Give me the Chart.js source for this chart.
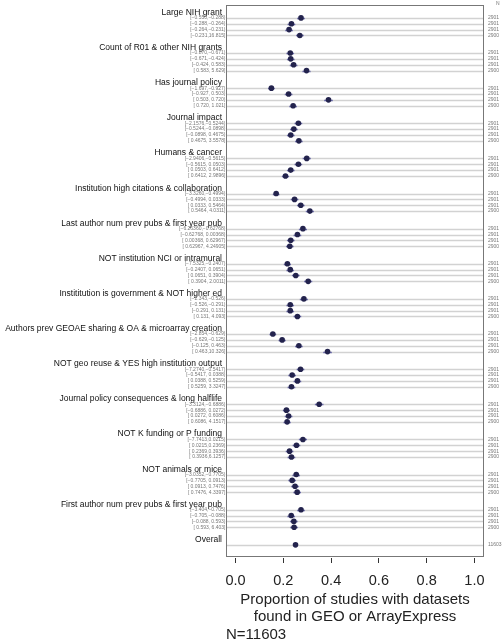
<!DOCTYPE html>
<html lang="en">
<head>
<meta charset="UTF-8">
<title>Forest plot</title>
<script src="https://cdn.jsdelivr.net/npm/chart.js"></script>
<style>
  body { margin: 0; background: #fff; }
  .chart-container { width: 503px; height: 643px; }
</style>
</head>
<body>
<div class="chart-container"><canvas id="myChart"></canvas></div>
<script>
// group headers
const groups = [
  'Large NIH grant',
  'Count of R01 & other NIH grants',
  'Has journal policy',
  'Journal impact',
  'Humans & cancer',
  'Institution high citations & collaboration',
  'Last author num prev pubs & first year pub',
  'NOT institution NCI or intramural',
  'Instititution is government & NOT higher ed',
  'Authors prev GEOAE sharing & OA & microarray creation',
  'NOT geo reuse & YES high institution output',
  'Journal policy consequences & long halflife',
  'NOT K funding or P funding',
  'NOT animals or mice',
  'First author num prev pubs & first year pub',
  'Overall'
];

// bin labels per group
const binLabels = [
  ['[\u22120.550,\u22120.288)', '[\u22120.288,\u22120.264)', '[\u22120.264,\u22120.231)', '[\u22120.231,16.815]'],
  ['[\u22120.870,\u22120.671)', '[\u22120.671,\u22120.424)', '[\u22120.424, 0.583)', '[ 0.583, 5.629]'],
  ['[\u22121.697,\u22120.927)', '[\u22120.927, 0.503)', '[ 0.503, 0.720)', '[ 0.720, 1.021]'],
  ['[\u22122.1576,\u22120.5244)', '[\u22120.5244,\u22120.0898)', '[\u22120.0898, 0.4675)', '[ 0.4675, 3.5578]'],
  ['[\u22122.9406,\u22120.5615)', '[\u22120.5615, 0.0503)', '[ 0.0503, 0.6412)', '[ 0.6412, 2.9896]'],
  ['[\u22123.3260,\u22120.4994)', '[\u22120.4994, 0.0333)', '[ 0.0333, 0.5464)', '[ 0.5464, 4.0311]'],
  ['[\u22126.26360,\u22120.62768)', '[\u22120.62768, 0.00368)', '[ 0.00368, 0.62967)', '[ 0.62967, 4.24905]'],
  ['[\u22127.5325,\u22120.2407)', '[\u22120.2407, 0.0651)', '[ 0.0651, 0.3904)', '[ 0.3904, 2.0011]'],
  ['[\u22122.343,\u22120.526)', '[\u22120.526,\u22120.291)', '[\u22120.291, 0.131)', '[ 0.131, 4.093]'],
  ['[\u22122.854,\u22120.629)', '[\u22120.629,\u22120.125)', '[\u22120.125, 0.463)', '[ 0.463,10.326]'],
  ['[\u22127.2740,\u22120.5417)', '[\u22120.5417, 0.0388)', '[ 0.0388, 0.5259)', '[ 0.5259, 3.3247]'],
  ['[\u22123.3124,\u22120.6886)', '[\u22120.6886, 0.0272)', '[ 0.0272, 0.6086)', '[ 0.6086, 4.1517]'],
  ['[\u22127.7413,0.0215)', '[ 0.0215,0.2369)', '[ 0.2369,0.3936)', '[ 0.3936,6.1257]'],
  ['[\u22123.0352,\u22120.7705)', '[\u22120.7705, 0.0913)', '[ 0.0913, 0.7476)', '[ 0.7476, 4.3397]'],
  ['[\u22123.404,\u22120.705)', '[\u22120.705,\u22120.088)', '[\u22120.088, 0.593)', '[ 0.593, 6.403]'],
  ['']
];

// proportion of studies with datasets
const props = [
  [0.274, 0.234, 0.224, 0.269],
  [0.229, 0.231, 0.243, 0.297],
  [0.150, 0.222, 0.389, 0.241],
  [0.263, 0.244, 0.231, 0.265],
  [0.298, 0.263, 0.231, 0.209],
  [0.170, 0.247, 0.273, 0.311],
  [0.282, 0.259, 0.231, 0.227],
  [0.217, 0.229, 0.252, 0.304],
  [0.286, 0.229, 0.229, 0.259],
  [0.156, 0.195, 0.265, 0.385],
  [0.272, 0.237, 0.259, 0.234],
  [0.350, 0.213, 0.222, 0.216],
  [0.282, 0.255, 0.226, 0.234],
  [0.254, 0.237, 0.249, 0.258],
  [0.274, 0.233, 0.244, 0.245],
  [0.251]
];

// half width of the interval bars
const ciHalf = [
  [0.016, 0.016, 0.016, 0.016],
  [0.016, 0.016, 0.016, 0.017],
  [0.014, 0.016, 0.018, 0.016],
  [0.016, 0.016, 0.016, 0.016],
  [0.017, 0.016, 0.016, 0.015],
  [0.014, 0.016, 0.016, 0.017],
  [0.017, 0.016, 0.016, 0.016],
  [0.015, 0.016, 0.016, 0.017],
  [0.017, 0.016, 0.016, 0.016],
  [0.014, 0.015, 0.016, 0.018],
  [0.016, 0.016, 0.016, 0.016],
  [0.018, 0.015, 0.016, 0.015],
  [0.017, 0.016, 0.016, 0.016],
  [0.016, 0.016, 0.016, 0.016],
  [0.016, 0.016, 0.016, 0.016],
  [0.008]
];

const counts = [
  [2901, 2901, 2901, 2900], [2901, 2901, 2901, 2900], [2901, 2901, 2901, 2900],
  [2901, 2901, 2901, 2900], [2901, 2901, 2901, 2900], [2901, 2901, 2901, 2900],
  [2901, 2901, 2901, 2900], [2901, 2901, 2901, 2900], [2901, 2901, 2901, 2900],
  [2901, 2901, 2901, 2900], [2901, 2901, 2901, 2900], [2901, 2901, 2901, 2900],
  [2901, 2901, 2901, 2900], [2901, 2901, 2901, 2900], [2901, 2901, 2901, 2900],
  [11603]
];

const xTicks = [0.0, 0.2, 0.4, 0.6, 0.8, 1.0];
const axisTitle = ['Proportion of studies with datasets', 'found in GEO or ArrayExpress'];
const footNote = 'N=11603';

// each group = header slot + rows + blank slot
const rowPos = (g, i) => g * 6 + 1 + i;

const points = [];
const rows = [];
props.forEach((arr, g) => arr.forEach((v, i) => {
  points.push({ x: v, y: rowPos(g, i) });
  rows.push({ g, i, v, half: ciHalf[g][i], label: binLabels[g][i], n: counts[g][i] });
}));

const FONT = "'Liberation Sans', Arial, sans-serif";

const forestPlugin = {
  id: 'forest',
  beforeDatasetsDraw(chart) {
    const { ctx, chartArea: a, scales: { x, y } } = chart;
    ctx.save();
    // row lines
    ctx.strokeStyle = '#d2d2d2';
    ctx.lineWidth = 1.5;
    rows.forEach(r => {
      const py = Math.round(y.getPixelForValue(rowPos(r.g, r.i))) + 0.5;
      ctx.beginPath();
      ctx.moveTo(a.left, py);
      ctx.lineTo(a.right, py);
      ctx.stroke();
    });
    // frame
    ctx.strokeStyle = '#777';
    ctx.lineWidth = 1;
    ctx.strokeRect(a.left + 0.5, a.top + 0.5, a.right - a.left - 1, a.bottom - 2 - a.top);
    // interval bars
    ctx.strokeStyle = '#6a6aa8';
    ctx.lineWidth = 1.5;
    rows.forEach(r => {
      const py = Math.round(y.getPixelForValue(rowPos(r.g, r.i))) + 0.5;
      ctx.beginPath();
      ctx.moveTo(x.getPixelForValue(r.v - r.half), py);
      ctx.lineTo(x.getPixelForValue(r.v + r.half), py);
      ctx.stroke();
    });
    ctx.restore();
  },
  afterDraw(chart) {
    const { ctx, chartArea: a, scales: { y } } = chart;
    ctx.save();
    // group headers
    ctx.fillStyle = '#111';
    ctx.font = '8.5px ' + FONT;
    ctx.textAlign = 'right';
    ctx.textBaseline = 'middle';
    groups.forEach((name, g) => {
      ctx.fillText(name, a.left - 4, y.getPixelForValue(g * 6) + 0.5);
    });
    // bin labels
    ctx.fillStyle = '#777';
    ctx.font = '5px ' + FONT;
    rows.forEach(r => {
      if (r.label) ctx.fillText(r.label, a.left - 0.5, y.getPixelForValue(rowPos(r.g, r.i)));
    });
    // counts
    ctx.textAlign = 'left';
    rows.forEach(r => {
      ctx.fillText(String(r.n), a.right + 4, y.getPixelForValue(rowPos(r.g, r.i)));
    });
    ctx.fillText('N', a.right + 12, 4);
    // axis title + footnote
    ctx.fillStyle = '#222';
    ctx.font = '15px ' + FONT;
    ctx.textAlign = 'center';
    const cx = (a.left + a.right) / 2;
    ctx.fillText(axisTitle[0], cx, 600);
    ctx.fillText(axisTitle[1], cx, 617);
    ctx.textAlign = 'left';
    ctx.fillText(footNote, a.left, 635);
    ctx.restore();
  }
};

const ctx = document.getElementById('myChart').getContext('2d');
const chart = new Chart(ctx, {
  type: 'scatter',
  data: {
    datasets: [{
      data: points,
      pointRadius: 2.8,
      pointBackgroundColor: '#23234d',
      pointBorderWidth: 0
    }]
  },
  options: {
    responsive: true,
    maintainAspectRatio: false,
    animation: false,
    layout: { padding: { left: 226, right: 19, top: 5, bottom: 0 } },
    scales: {
      x: {
        type: 'linear',
        min: -0.04,
        max: 1.04,
        afterBuildTicks: s => { s.ticks = xTicks.map(v => ({ value: v })); },
        afterFit: s => { s.height = 85; },
        ticks: {
          font: { family: FONT, size: 14.5 },
          color: '#222',
          padding: 9,
          maxRotation: 0,
          callback: v => Number(v).toFixed(1)
        },
        grid: { drawOnChartArea: false, drawTicks: true, tickLength: 5, color: '#333' },
        border: { display: false }
      },
      y: {
        type: 'linear',
        reverse: true,
        min: -1.2,
        max: 93.25,
        display: false
      }
    },
    plugins: {
      legend: { display: false },
      tooltip: { enabled: false }
    }
  },
  plugins: [forestPlugin]
});
</script>
</body>
</html>
